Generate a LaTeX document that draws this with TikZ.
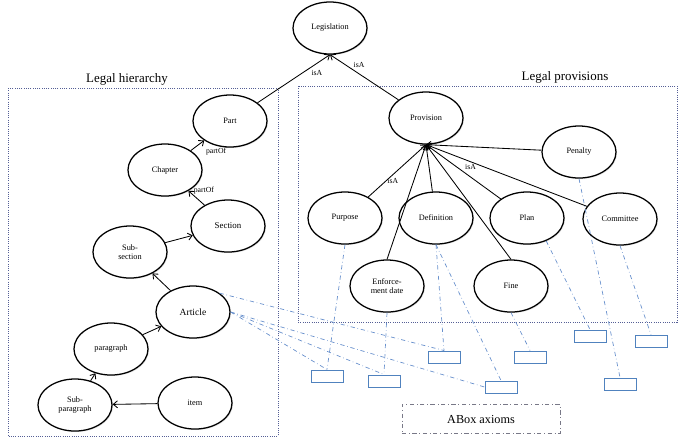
\documentclass[tikz,border=0pt]{standalone}
\usepackage{fontspec}
\setmainfont{Liberation Serif}
\usepackage{tikz}
\usetikzlibrary{shapes.geometric, arrows.meta, shadows}
\definecolor{frameblue}{RGB}{85, 95, 150}
\definecolor{linkblue}{RGB}{105, 145, 205}
\definecolor{aboxblue}{RGB}{80, 130, 190}
\definecolor{axgray}{RGB}{120, 120, 135}

\begin{document}
\begin{tikzpicture}[
  x=0.025cm, y=-0.025cm,
  concept/.style={draw, ellipse, line width=0.9pt, fill=white, minimum width=1.85cm,
               minimum height=1.3cm, inner sep=0pt, align=center,
               font=\fontsize{5.9}{6.8}\selectfont,
               drop shadow={opacity=0.25, shadow xshift=0.7pt, shadow yshift=-0.7pt}},
  abox/.style={draw=aboxblue, line width=0.7pt, minimum width=0.8cm, minimum height=0.3cm, inner sep=0pt},
  frame/.style={draw=frameblue, densely dotted, line width=0.6pt},
  title/.style={font=\fontsize{9.2}{10}\selectfont},
  lbl/.style={font=\fontsize{5.5}{6}\selectfont, inner sep=1pt},
  arr/.style={-{Straight Barb[length=3pt, width=5pt]}, line width=0.6pt},
  link/.style={draw=linkblue, dash dot, line width=0.5pt},
]
\useasboundingbox (0,0) rectangle (682,437);

% Frames
\draw[frame] (8,88) rectangle (278,436);
\node[title] (hiertitle) at (127,79) {Legal hierarchy};
\draw[frame] (298,86) rectangle (677,322);
\node[title] (provtitle) at (565,77) {Legal provisions};

% Top concept
\node[concept] (leg) at (330,28) {Legislation};

% Legal hierarchy (left box)
\node[concept] (part)    at (230,121) {Part};
\node[concept] (chapter) at (165,170) {Chapter};
\node[concept, font=\fontsize{6.3}{7}\selectfont] (section) at (228,226) {Section};
\node[concept] (subsec)  at (130,252) {Sub-\\section};
\node[concept, font=\fontsize{6.8}{8}\selectfont] (article) at (193,312) {Article};
\node[concept] (para)    at (111,349) {paragraph};
\node[concept] (subpara) at (75,405)  {Sub-\\paragraph};
\node[concept] (item)    at (195,403) {item};

% Legal provisions (right box)
\node[concept] (prov)      at (426,118) {Provision};
\node[concept] (penalty)   at (579,152) {Penalty};
\node[concept] (purpose)   at (345,218) {Purpose};
\node[concept] (defn)      at (436,218) {Definition};
\node[concept] (plan)      at (527,218) {Plan};
\node[concept] (committee) at (620,219) {Committee};
\node[concept] (enforce)   at (387,286) {Enforce-\\ment date};
\node[concept] (fine)      at (511,286) {Fine};

% ABox boxes
\node[abox] (ab1) at (444,357) {};
\node[abox] (ab2) at (530,357) {};
\node[abox] (ab3) at (384,381) {};
\node[abox] (ab4) at (501,387) {};
\node[abox] (ab5) at (590,336) {};
\node[abox] (ab6) at (651,341) {};
\node[abox] (ab7) at (620,384) {};
\node[abox] (ab8) at (327,376) {};
\node[draw=axgray, dash dot, line width=0.6pt, minimum width=3.95cm, minimum height=0.72cm,
      font=\fontsize{8.7}{10}\selectfont] (axioms) at (481,419) {ABox axioms};

% Arrows - isA to Legislation
\draw[arr] (part) -- node[lbl, pos=0.72, below right] {isA} (leg.south);
\draw[arr] (prov) -- node[lbl, pos=0.68, above right] {isA} (leg.south);

% Arrows - hierarchy
\draw[arr] (chapter) -- node[lbl, pos=1, anchor=north west, xshift=0pt, yshift=-4pt] {partOf} (part);
\draw[arr] (section) -- node[lbl, pos=1, anchor=west, xshift=2.5pt, yshift=0pt] {partOf} (chapter);
\draw[arr] (subsec)  -- (section);
\draw[arr] (article) -- (subsec);
\draw[arr] (para)    -- (article);
\draw[arr] (subpara) -- (para);
\draw[arr] (item)    -- (subpara);

% Arrows - isA to Provision
\draw[arr] (purpose)       -- node[lbl, pos=0.3, right] {isA} (prov.south);
\draw[arr] (enforce.north) -- (prov.south);
\draw[arr] (defn)          -- (prov.south);
\draw[arr] (fine.north)    -- (prov.south);
\draw[arr] (plan)          -- node[lbl, pos=0.5, above right] {isA} (prov.south);
\draw[arr] (committee)     -- (prov.south);
\draw[arr] (penalty)       -- (prov.south);

% Links to ABox axioms
\draw[link] (article.north east) -- (ab1.north);
\draw[link] (article.east) -- (ab3.north);
\draw[link] (article.east) -- (ab4.west);
\draw[link] (article.east) -- (ab8.north);
\draw[link] (purpose.south) -- (ab8.north);
\draw[link] (defn.south) -- (ab1.north);
\draw[link] (defn.south) -- (ab4.north);
\draw[link] (enforce.south) -- (ab3.north);
\draw[link] (fine.south) -- (ab2.north);
\draw[link] (plan.-50) -- (ab5.north);
\draw[link] (penalty.south) -- (ab7.north);
\draw[link] (committee.south) -- (ab6.north);

\end{tikzpicture}
\end{document}
